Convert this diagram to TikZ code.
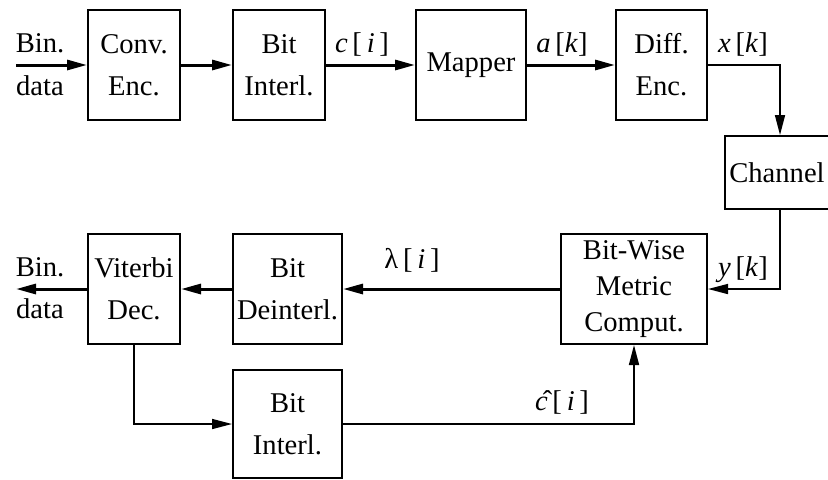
\documentclass[tikz,border=0pt]{standalone}
\usepackage{fontspec}
\setmainfont{Liberation Serif}
\usetikzlibrary{arrows.meta}
\begin{document}
\begin{tikzpicture}[x=0.5pt,y=-0.5pt,>={Triangle[length=10pt,width=5pt]},line join=miter,
	font=\fontsize{14.3}{21}\selectfont,
	blk/.style={draw,line width=1pt,inner sep=0pt,align=center,minimum height=55pt},
	thk/.style={line width=1.5pt},
	thn/.style={line width=0.8pt}]
	\useasboundingbox (0,0) rectangle (828,479);
	% upper row: transmitter
	\node[blk,minimum width=46pt] (conv) at (134,65) {Conv.\\Enc.};
	\node[blk,minimum width=46pt] (bint) at (279,65) {Bit\\Interl.};
	\node[blk,minimum width=55pt] (map) at (471,65) {Mapper};
	\node[blk,minimum width=45.5pt] (diff) at (661.5,65) {Diff.\\Enc.};
	\node[blk,minimum width=55pt,minimum height=36.5pt] (chan) at (780,172.5) {Channel\hspace*{3pt}};
	% lower row: receiver
	\node[blk,minimum width=46pt] (vit) at (134,289) {Viterbi\\Dec.};
	\node[blk,minimum width=54.5pt] (deint) at (287.5,289) {Bit\\Deinterl.};
	\node[blk,minimum width=73pt,font=\fontsize{14.3}{18}\selectfont] (met) at (634,289) {Bit-Wise\\Metric\\Comput.};
	\node[blk,minimum width=54.5pt,minimum height=54pt] (bint2) at (287.5,424) {Bit\\Interl.};
	% free ends
	\coordinate (src) at (16,65);
	\coordinate (snk) at (16,289);
	% texts
	\node[anchor=base] (bin1) at (40,52) {Bin.};
	\node[anchor=base] (dat1) at (40,95) {data};
	\node[anchor=base] (bin2) at (40,276) {Bin.};
	\node[anchor=base] (dat2) at (40,318) {data};
	\node[anchor=base] (lc) at (362,52) {\textit{c}\,[\,\textit{i}\,]};
	\node[anchor=base] (la) at (562,52) {\textit{a}\,[\textit{k}]};
	\node[anchor=base] (lx) at (743,52) {\textit{x}\,[\textit{k}]};
	\node[anchor=base] (ly) at (743,276) {\textit{y}\,[\textit{k}]};
	\node[anchor=base] (llam) at (412,268) {λ\,[\,\textit{i}\,]};
	\node[anchor=base] (lch) at (562,410) {\^{\textit{c}}\,[\,\textit{i}\,]};
	% connectors
	\draw[thk,->] (src) -- (conv);
	\draw[thk,->] (conv) -- (bint);
	\draw[thk,->] (bint) -- (map);
	\draw[thk,->] (map) -- (diff);
	\draw[thn,->] (diff.east) -| (chan.north);
	\draw[thn,->] (chan.south) |- (met.east);
	\draw[thk,->] (met) -- (deint);
	\draw[thk,->] (deint) -- (vit);
	\draw[thk,->] (vit) -- (snk);
	\draw[thn,->] (vit.south) |- (bint2.west);
	\draw[thn,->] (bint2.east) -| (met.south);
\end{tikzpicture}
\end{document}
